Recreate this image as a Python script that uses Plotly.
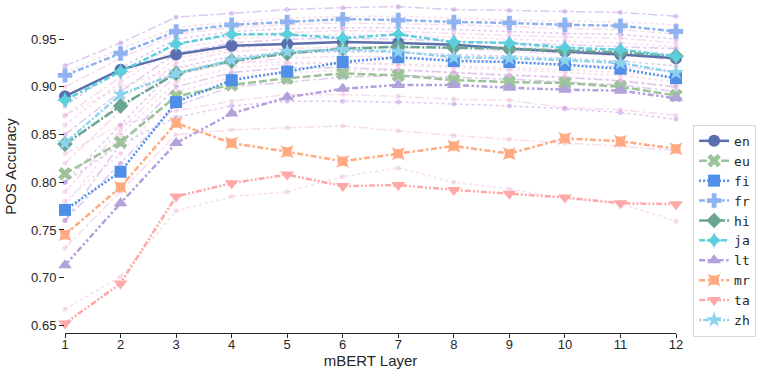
import plotly.graph_objects as go

layers = list(range(1, 13))

langs = ["en", "eu", "fi", "fr", "hi", "ja", "lt", "mr", "ta", "zh"]

en = [0.890, 0.918, 0.934, 0.943, 0.945, 0.947, 0.946, 0.944, 0.940, 0.937, 0.934, 0.930]
eu = [0.809, 0.842, 0.890, 0.902, 0.909, 0.914, 0.912, 0.907, 0.905, 0.904, 0.900, 0.891]
fi = [0.771, 0.811, 0.884, 0.907, 0.916, 0.926, 0.931, 0.927, 0.926, 0.923, 0.919, 0.909]
fr = [0.912, 0.935, 0.958, 0.965, 0.968, 0.971, 0.970, 0.968, 0.967, 0.965, 0.964, 0.958]
hi = [0.840, 0.880, 0.914, 0.927, 0.935, 0.940, 0.942, 0.941, 0.940, 0.938, 0.936, 0.932]
ja = [0.886, 0.916, 0.945, 0.955, 0.955, 0.951, 0.955, 0.947, 0.946, 0.941, 0.939, 0.932]
lt = [0.713, 0.778, 0.841, 0.872, 0.889, 0.898, 0.902, 0.902, 0.899, 0.897, 0.896, 0.888]
mr = [0.745, 0.795, 0.862, 0.841, 0.832, 0.822, 0.830, 0.838, 0.830, 0.846, 0.843, 0.835]
ta = [0.652, 0.694, 0.785, 0.799, 0.808, 0.796, 0.797, 0.792, 0.788, 0.784, 0.778, 0.777]
zh = [0.841, 0.892, 0.914, 0.928, 0.937, 0.939, 0.937, 0.931, 0.930, 0.928, 0.925, 0.915]

main = [en, eu, fi, fr, hi, ja, lt, mr, ta, zh]

colors = ["#5b6fae", "#9cc39a", "#4f8fe8", "#8fb2f0", "#6aa592",
          "#5ccfdd", "#b3a1dc", "#ffaa80", "#ffa8a8", "#8ed3ee"]
symbols = ["circle", "x", "square", "cross", "diamond",
           "star-diamond", "triangle-up", "star-square", "triangle-down", "star"]
dashes = ["solid", "8px,3px", "2px,2px", "6px,2.5px,3px,2.5px", "10px,2px,2px,2px",
          "6px,2.5px,6px,2.5px,2.5px,2.5px", "6px,2.5px,2.5px,2.5px,2.5px,2.5px",
          "6px,2.5px,2.5px,2.5px", "6px,2px,2px,2px,2px,2px", "2px,2px,6px,2px"]

# other languages, drawn faint in the background
faint = [
    [0.922, 0.946, 0.973, 0.977, 0.981, 0.983, 0.984, 0.981, 0.980, 0.979, 0.978, 0.974],
    [0.915, 0.940, 0.962, 0.968, 0.972, 0.974, 0.974, 0.972, 0.970, 0.969, 0.968, 0.965],
    [0.900, 0.930, 0.955, 0.962, 0.965, 0.967, 0.966, 0.965, 0.963, 0.961, 0.960, 0.955],
    [0.880, 0.920, 0.950, 0.958, 0.961, 0.962, 0.962, 0.960, 0.958, 0.956, 0.955, 0.950],
    [0.870, 0.910, 0.945, 0.953, 0.957, 0.959, 0.958, 0.956, 0.954, 0.952, 0.951, 0.946],
    [0.860, 0.905, 0.940, 0.950, 0.953, 0.955, 0.954, 0.952, 0.950, 0.948, 0.946, 0.942],
    [0.850, 0.895, 0.935, 0.946, 0.950, 0.951, 0.950, 0.948, 0.946, 0.944, 0.942, 0.940],
    [0.835, 0.885, 0.930, 0.940, 0.945, 0.947, 0.946, 0.944, 0.942, 0.940, 0.938, 0.935],
    [0.820, 0.875, 0.925, 0.937, 0.940, 0.942, 0.941, 0.940, 0.937, 0.935, 0.933, 0.928],
    [0.800, 0.860, 0.920, 0.932, 0.935, 0.937, 0.936, 0.934, 0.932, 0.930, 0.927, 0.922],
    [0.790, 0.855, 0.912, 0.925, 0.930, 0.932, 0.931, 0.929, 0.926, 0.924, 0.921, 0.916],
    [0.775, 0.850, 0.905, 0.920, 0.924, 0.925, 0.924, 0.922, 0.920, 0.918, 0.915, 0.910],
    [0.760, 0.840, 0.900, 0.915, 0.920, 0.920, 0.918, 0.915, 0.912, 0.910, 0.906, 0.900],
    [0.870, 0.900, 0.920, 0.925, 0.926, 0.925, 0.923, 0.920, 0.918, 0.915, 0.912, 0.905],
    [0.830, 0.860, 0.875, 0.885, 0.892, 0.892, 0.890, 0.887, 0.886, 0.878, 0.876, 0.870],
    [0.800, 0.840, 0.868, 0.880, 0.885, 0.885, 0.884, 0.882, 0.880, 0.877, 0.873, 0.866],
    [0.731, 0.790, 0.850, 0.855, 0.857, 0.859, 0.854, 0.849, 0.845, 0.841, 0.838, 0.833],
    [0.667, 0.701, 0.770, 0.785, 0.790, 0.806, 0.815, 0.800, 0.793, 0.783, 0.778, 0.759],
    [0.760, 0.820, 0.880, 0.900, 0.905, 0.910, 0.912, 0.910, 0.908, 0.905, 0.902, 0.895],
    [0.780, 0.830, 0.895, 0.910, 0.915, 0.917, 0.917, 0.915, 0.913, 0.910, 0.907, 0.900],
]
faint_colors = ["rgba(190,150,225,0.5)", "rgba(235,175,215,0.42)"]

fig = go.Figure()

for i, vals in enumerate(faint):
    c = faint_colors[0] if i % 3 == 0 else faint_colors[1]
    fig.add_trace(go.Scatter(
        x=layers, y=vals, mode="lines+markers", showlegend=False,
        line=dict(color=c, width=1.5, dash="dot" if i % 2 else "dashdot"),
        marker=dict(size=5, color=c), cliponaxis=False, hoverinfo="skip"
    ))

for name, vals, c, s, d in zip(langs, main, colors, symbols, dashes):
    fig.add_trace(go.Scatter(
        x=layers, y=vals, mode="lines+markers", name=name,
        line=dict(color=c, width=2.5, dash=d),
        marker=dict(symbol=s, size=12, color=c, line=dict(width=0)),
        cliponaxis=False
    ))

fig.update_layout(
    width=763, height=377,
    margin=dict(l=65, r=87, t=0, b=44),
    plot_bgcolor="white", paper_bgcolor="white",
    font=dict(family="Liberation Sans, Arial", size=13, color="#262626"),
    legend=dict(
        x=1.028, y=0.625, xanchor="left", yanchor="top",
        bordercolor="#d9d9d9", borderwidth=1,
        font=dict(family="DejaVu Sans Mono", size=13, color="#262626"),
        tracegroupgap=0,
    ),
)
fig.update_xaxes(
    range=[1, 12], tickvals=layers, showgrid=False, zeroline=False,
    showline=True, linecolor="#262626", linewidth=1.2,
    ticks="outside", ticklen=4, tickcolor="#262626", automargin=False,
    ticklabelstandoff=-5,
    title=dict(text="mBERT Layer", font=dict(size=15), standoff=0),
)
fig.update_yaxes(
    range=[0.642, 0.991], tickvals=[0.65, 0.70, 0.75, 0.80, 0.85, 0.90, 0.95],
    tickformat=".2f", showgrid=False, zeroline=False, showline=False,
    ticks="outside", ticklen=5, tickcolor="#262626", automargin=False,
    title=dict(text="POS Accuracy", font=dict(size=15), standoff=10),
)

fig.write_html("out.html", config={"displayModeBar": False},
               post_script="document.body.style.margin='0';")
